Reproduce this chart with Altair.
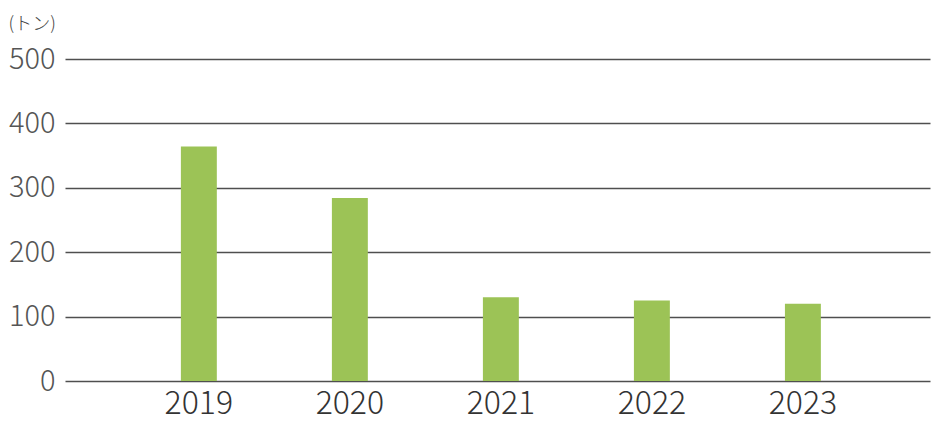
import altair as alt
import pandas as pd

years = ["2019", "2020", "2021", "2022", "2023"]
values = [364, 284, 130, 125, 120]
y_ticks = [0, 100, 200, 300, 400, 500]
unit_label = "(トン)"

df = pd.DataFrame({"year": years, "value": values})

FONT = "Noto Sans CJK JP"

chart = alt.Chart(df).mark_bar(color="#9cc356").encode(
    x=alt.X("year:N", sort=years,
            scale=alt.Scale(paddingInner=0.762, paddingOuter=0.745, align=0.515),
            axis=alt.Axis(title=None, labelAngle=0, labelFontSize=32, labelColor="#333333",
                          labelFont=FONT, labelPadding=7, ticks=False, domain=False,
                          labelFontWeight=300)),
    y=alt.Y("value:Q", scale=alt.Scale(domain=[0, 500], nice=False),
            axis=alt.Axis(values=y_ticks, title=unit_label, titleAngle=0, titleX=-57, titleY=-30,
                          titleAlign="left", titleBaseline="alphabetic", titleFontSize=18,
                          titleFontWeight=300, titleColor="#444444", titleFont=FONT,
                          labelFontSize=29, labelColor="#555555", labelFont=FONT,
                          labelFontWeight=300, labelPadding=10, ticks=False, domain=False,
                          grid=True, gridColor="#4f4f4f", gridWidth=1.5)),
).properties(
    width=865, height=322,
    autosize=alt.AutoSizeParams(type="none"),
    padding={"left": 57, "top": 51, "right": 10, "bottom": 45},
).configure(background="white", view=alt.ViewConfig(stroke=None))

chart.save("out.html", embed_options={"renderer": "svg", "actions": False})
